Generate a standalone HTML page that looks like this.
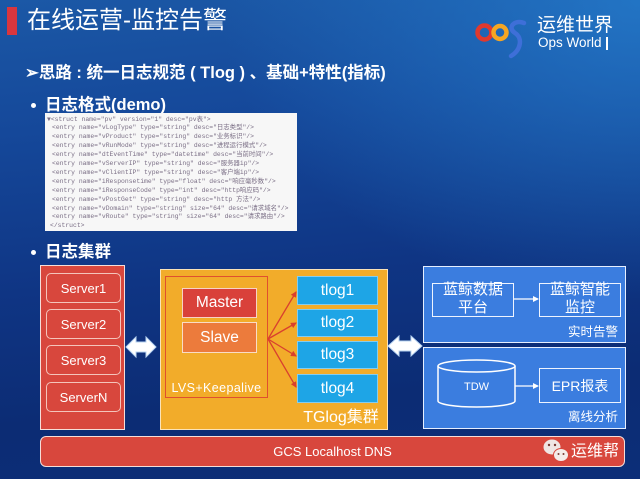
<!DOCTYPE html>
<html><head><meta charset="utf-8">
<style>
*{margin:0;padding:0;box-sizing:border-box;}
html,body{width:640px;height:479px;overflow:hidden;}
body{position:relative;font-family:"Liberation Sans","Noto Sans CJK SC",sans-serif;color:#fff;
background:
 radial-gradient(ellipse 420px 300px at 100% 0%, rgba(38,128,208,0.75), rgba(38,128,208,0) 100%),
 linear-gradient(175deg,#1b58a6 0%,#15489a 25%,#0f3584 55%,#0c2c74 80%,#0c2e78 100%);}
.a{position:absolute;}
.c{position:absolute;display:flex;align-items:center;justify-content:center;text-align:center;}
.cjk{font-family:"Liberation Sans","Noto Sans CJK SC",sans-serif;}
.code{position:absolute;left:45px;top:113px;width:252px;height:118px;background:#f7f7f7;overflow:hidden;}
.code div{position:absolute;white-space:pre;font-family:"Liberation Mono","Noto Sans CJK SC",monospace;font-size:6.4px;line-height:9px;color:#7b6f86;}
.srv{position:absolute;left:46px;width:75px;height:30px;border:1.5px solid #f4c4bb;border-radius:5px;background:#d8473d;display:flex;align-items:center;justify-content:center;font-size:13px;}
.tl{position:absolute;left:297px;width:81px;background:#1ea5e6;border:1px solid rgba(255,255,255,0.45);display:flex;align-items:center;justify-content:center;font-size:15.5px;}
</style></head><body>

<!-- title -->
<div class="a" style="left:7px;top:7px;width:10px;height:28px;background:#d9363e;"></div>
<div class="a cjk" style="left:27px;top:6px;height:30px;line-height:30px;font-size:24px;white-space:nowrap;">在线运营-监控告警</div>

<div class="a cjk" style="left:25px;top:63px;height:20px;line-height:20px;font-size:16.5px;font-weight:bold;white-space:nowrap;">➢思路 : 统一日志规范 ( Tlog ) 、基础+特性(指标)</div>

<div class="a" style="left:31px;top:103px;width:5px;height:5px;border-radius:50%;background:#fff;"></div>
<div class="a cjk" style="left:45px;top:95px;height:20px;line-height:20px;font-size:16.5px;font-weight:bold;white-space:nowrap;">日志格式(demo)</div>

<div class="code">
<div style="left:2px;top:1.5px;">▼&lt;struct name="pv" version="1" desc="pv表"&gt;</div>
<div style="left:7px;top:10.4px;">&lt;entry name="vLogType" type="string" desc="日志类型"/&gt;</div>
<div style="left:7px;top:19.3px;">&lt;entry name="vProduct" type="string" desc="业务标识"/&gt;</div>
<div style="left:7px;top:28.2px;">&lt;entry name="vRunMode" type="string" desc="进程运行模式"/&gt;</div>
<div style="left:7px;top:37.1px;">&lt;entry name="dtEventTime" type="datetime" desc="当前时间"/&gt;</div>
<div style="left:7px;top:46px;">&lt;entry name="vServerIP" type="string" desc="服务器ip"/&gt;</div>
<div style="left:7px;top:54.9px;">&lt;entry name="vClientIP" type="string" desc="客户端ip"/&gt;</div>
<div style="left:7px;top:63.8px;">&lt;entry name="iResponsetime" type="float" desc="响应毫秒数"/&gt;</div>
<div style="left:7px;top:72.7px;">&lt;entry name="iResponseCode" type="int" desc="http响应码"/&gt;</div>
<div style="left:7px;top:81.6px;">&lt;entry name="vPostGet" type="string" desc="http 方法"/&gt;</div>
<div style="left:7px;top:90.5px;">&lt;entry name="vDomain" type="string" size="64" desc="请求域名"/&gt;</div>
<div style="left:7px;top:99.4px;">&lt;entry name="vRoute" type="string" size="64" desc="请求路由"/&gt;</div>
<div style="left:5px;top:108.3px;">&lt;/struct&gt;</div>
</div>

<div class="a" style="left:31px;top:250px;width:5px;height:5px;border-radius:50%;background:#fff;"></div>
<div class="a cjk" style="left:45px;top:242px;height:20px;line-height:20px;font-size:16.5px;font-weight:bold;white-space:nowrap;">日志集群</div>

<!-- servers -->
<div class="a" style="left:40px;top:265px;width:85px;height:165px;background:#d8473d;border:1.5px solid #f6ddd8;"></div>
<div class="srv" style="top:273px;">Server1</div>
<div class="srv" style="top:309px;">Server2</div>
<div class="srv" style="top:345px;">Server3</div>
<div class="srv" style="top:382px;">ServerN</div>

<!-- orange -->
<div class="a" style="left:160px;top:269px;width:228px;height:161px;background:#f2ac2a;border:1.5px solid #fbe3b8;"></div>
<div class="a" style="left:165px;top:276px;width:103px;height:122px;border:1.5px solid #e0502e;"></div>
<div class="c" style="left:182px;top:288px;width:75px;height:30px;background:#d9413a;border:1.5px solid #f7d2c6;font-size:15.5px;">Master</div>
<div class="c" style="left:182px;top:322px;width:75px;height:31px;background:#ec7b3c;border:1.5px solid #f9dcc6;font-size:15.5px;">Slave</div>
<div class="c" style="left:165px;top:379px;width:103px;height:18px;font-size:12.5px;letter-spacing:0.4px;">LVS+Keepalive</div>
<div class="tl" style="top:276px;height:29px;">tlog1</div>
<div class="tl" style="top:309px;height:28px;">tlog2</div>
<div class="tl" style="top:341px;height:28px;">tlog3</div>
<div class="tl" style="top:374px;height:29px;">tlog4</div>
<div class="c cjk" style="left:296px;top:405px;width:90px;height:20px;font-size:16px;">TGlog集群</div>

<!-- blue panels -->
<div class="a" style="left:423px;top:266px;width:203px;height:77px;background:#3b7ddf;border:1.5px solid #e6efff;"></div>
<div class="a" style="left:423px;top:347px;width:203px;height:82px;background:#3b7ddf;border:1.5px solid #e6efff;"></div>
<div class="a" style="left:432px;top:283px;width:82px;height:34px;border:1.5px solid #eef4ff;"></div>
<div class="a" style="left:539px;top:283px;width:82px;height:34px;border:1.5px solid #eef4ff;"></div>
<div class="a cjk" style="left:432px;top:281px;width:82px;text-align:center;font-size:15px;line-height:18px;">蓝鲸数据<br>平台</div>
<div class="a cjk" style="left:539px;top:281px;width:82px;text-align:center;font-size:15px;line-height:18px;">蓝鲸智能<br>监控</div>
<div class="a cjk" style="left:560px;top:324px;width:58px;text-align:right;font-size:12.5px;line-height:16px;">实时告警</div>
<div class="c" style="left:539px;top:368px;width:82px;height:35px;border:1.5px solid #eef4ff;font-size:14px;" ><span class="cjk">EPR报表</span></div>
<div class="a cjk" style="left:560px;top:409px;width:58px;text-align:right;font-size:12.5px;line-height:16px;">离线分析</div>

<!-- DNS bar -->
<div class="c" style="left:40px;top:436px;width:585px;height:31px;background:#d8473d;border:1.5px solid #f6ddd8;border-radius:6px;font-size:13px;">GCS Localhost DNS</div>
<div class="a cjk" style="left:571px;top:442px;font-size:16px;line-height:20px;white-space:nowrap;">运维帮</div>

<!-- logo text -->
<div class="a cjk" style="left:537px;top:15px;font-size:19px;line-height:22px;white-space:nowrap;">运维世界</div>
<div class="a" style="left:538px;top:35px;font-size:13.5px;line-height:16px;white-space:nowrap;">Ops World</div>
<div class="a" style="left:606px;top:37px;width:1.5px;height:13px;background:#fff;"></div>

<svg class="a" style="left:0;top:0;" width="640" height="479" viewBox="0 0 640 479">
<defs>
<marker id="rh" markerWidth="6" markerHeight="6" refX="5" refY="3" orient="auto" markerUnits="userSpaceOnUse"><path d="M0,0 L6,3 L0,6 z" fill="#d9402e"/></marker>
<marker id="wh" markerWidth="6" markerHeight="6" refX="5" refY="3" orient="auto" markerUnits="userSpaceOnUse"><path d="M0,0 L6,3 L0,6 z" fill="#fff"/></marker>
</defs>
<polygon points="126,347 136,337 136,342 146,342 146,337 156,347 146,357 146,352 136,352 136,357" fill="#fff" stroke="#b9d4f2" stroke-width="1"/>
<polygon points="388,346 399,336 399,341 411,341 411,336 422,346 411,356 411,351 399,351 399,356" fill="#fff" stroke="#b9d4f2" stroke-width="1"/>
<g stroke="#d9402e" stroke-width="1.3" fill="none">
<line x1="268" y1="339" x2="296" y2="292" marker-end="url(#rh)"/>
<line x1="268" y1="339" x2="296" y2="323" marker-end="url(#rh)"/>
<line x1="268" y1="339" x2="296" y2="356" marker-end="url(#rh)"/>
<line x1="268" y1="339" x2="296" y2="387" marker-end="url(#rh)"/>
</g>
<line x1="514" y1="299" x2="538" y2="299" stroke="#fff" stroke-width="1.2" marker-end="url(#wh)"/>
<line x1="515" y1="386" x2="538" y2="386" stroke="#fff" stroke-width="1.2" marker-end="url(#wh)"/>
<path d="M438,366 L438,401 A38.5,6 0 0 0 515,401 L515,366" fill="#3b7ddf" stroke="#fff" stroke-width="1.5"/>
<ellipse cx="476.5" cy="366" rx="38.5" ry="6" fill="#3b7ddf" stroke="#fff" stroke-width="1.5"/>
<text x="476.5" y="390" font-family="Liberation Sans" font-size="11" fill="#fff" text-anchor="middle">TDW</text>
<circle cx="484.5" cy="32.5" r="7" fill="none" stroke="#e0392e" stroke-width="4.5"/>
<circle cx="500" cy="32.5" r="6.5" fill="none" stroke="#f5a623" stroke-width="4.5"/>
<path d="M524,23 C514,19 507,28 515,33 C523,38 521,50 511,56" fill="none" stroke="#3e6fd8" stroke-width="4.5" stroke-linecap="round"/>
<ellipse cx="552" cy="447" rx="8.5" ry="7.5" fill="#efe6e4"/>
<ellipse cx="561" cy="455" rx="7.5" ry="6.5" fill="#f4ecea" stroke="#d8473d" stroke-width="1"/>
<circle cx="549" cy="445" r="1.2" fill="#7a3a34"/><circle cx="555" cy="445" r="1.2" fill="#7a3a34"/>
<circle cx="558.5" cy="454" r="1" fill="#7a3a34"/><circle cx="563.5" cy="454" r="1" fill="#7a3a34"/>
</svg>
</body></html>
